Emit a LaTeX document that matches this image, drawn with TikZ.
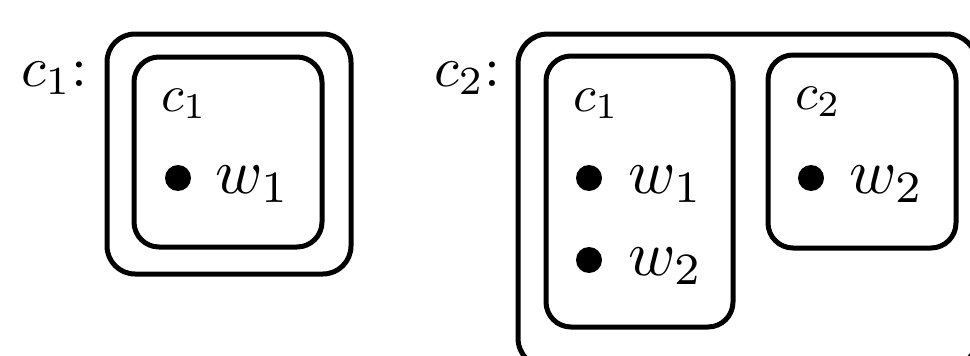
\documentclass[tikz,border=0pt]{standalone}
\begin{document}
\begin{tikzpicture}[x=1pt,y=-1pt,
  box/.style={draw=black,line width=5pt},
  dotnode/.style={circle,fill=black,inner sep=0pt,minimum size=26pt},
  txt/.style={inner sep=0pt,anchor=base west}]
\newcommand\lblsz[1]{\scalebox{5.7}{#1}}
\newcommand\csz[1]{\scalebox{5.2}{#1}}
\newcommand\wsz[1]{\scalebox{6.4}{#1}}
\useasboundingbox (0,0) rectangle (970,356);
\clip (0,0) rectangle (970,356);
% left figure
\node[txt] (labA) at (21,86) {\lblsz{$c_1$:}};
\draw[box,rounded corners=28pt] (107,34) rectangle (351,274);
\draw[box,rounded corners=25pt] (134,57) rectangle (322,247);
\node[txt] (lc1) at (161,111) {\csz{$c_1$}};
\node[dotnode] (ld1) at (178,178) {};
\node[txt] (lw1) at (215,193) {\wsz{$w_1$}};
% right figure
\node[txt] (labB) at (434,86) {\lblsz{$c_2$:}};
\draw[box,rounded corners=30pt] (518,34) rectangle (977,368);
\draw[box,rounded corners=25pt] (546,56) rectangle (733,327);
\draw[box,rounded corners=25pt] (768,55) rectangle (956,248);
\node[txt] (rc1) at (573,111) {\csz{$c_1$}};
\node[dotnode] (rd1) at (589,178) {};
\node[txt] (rw1) at (628,193) {\wsz{$w_1$}};
\node[dotnode] (rd2) at (589,260) {};
\node[txt] (rw2) at (628,275) {\wsz{$w_2$}};
\node[txt] (rc2) at (795,109) {\csz{$c_2$}};
\node[dotnode] (rd3) at (811,178) {};
\node[txt] (rw3) at (849,193) {\wsz{$w_2$}};
\end{tikzpicture}
\end{document}
